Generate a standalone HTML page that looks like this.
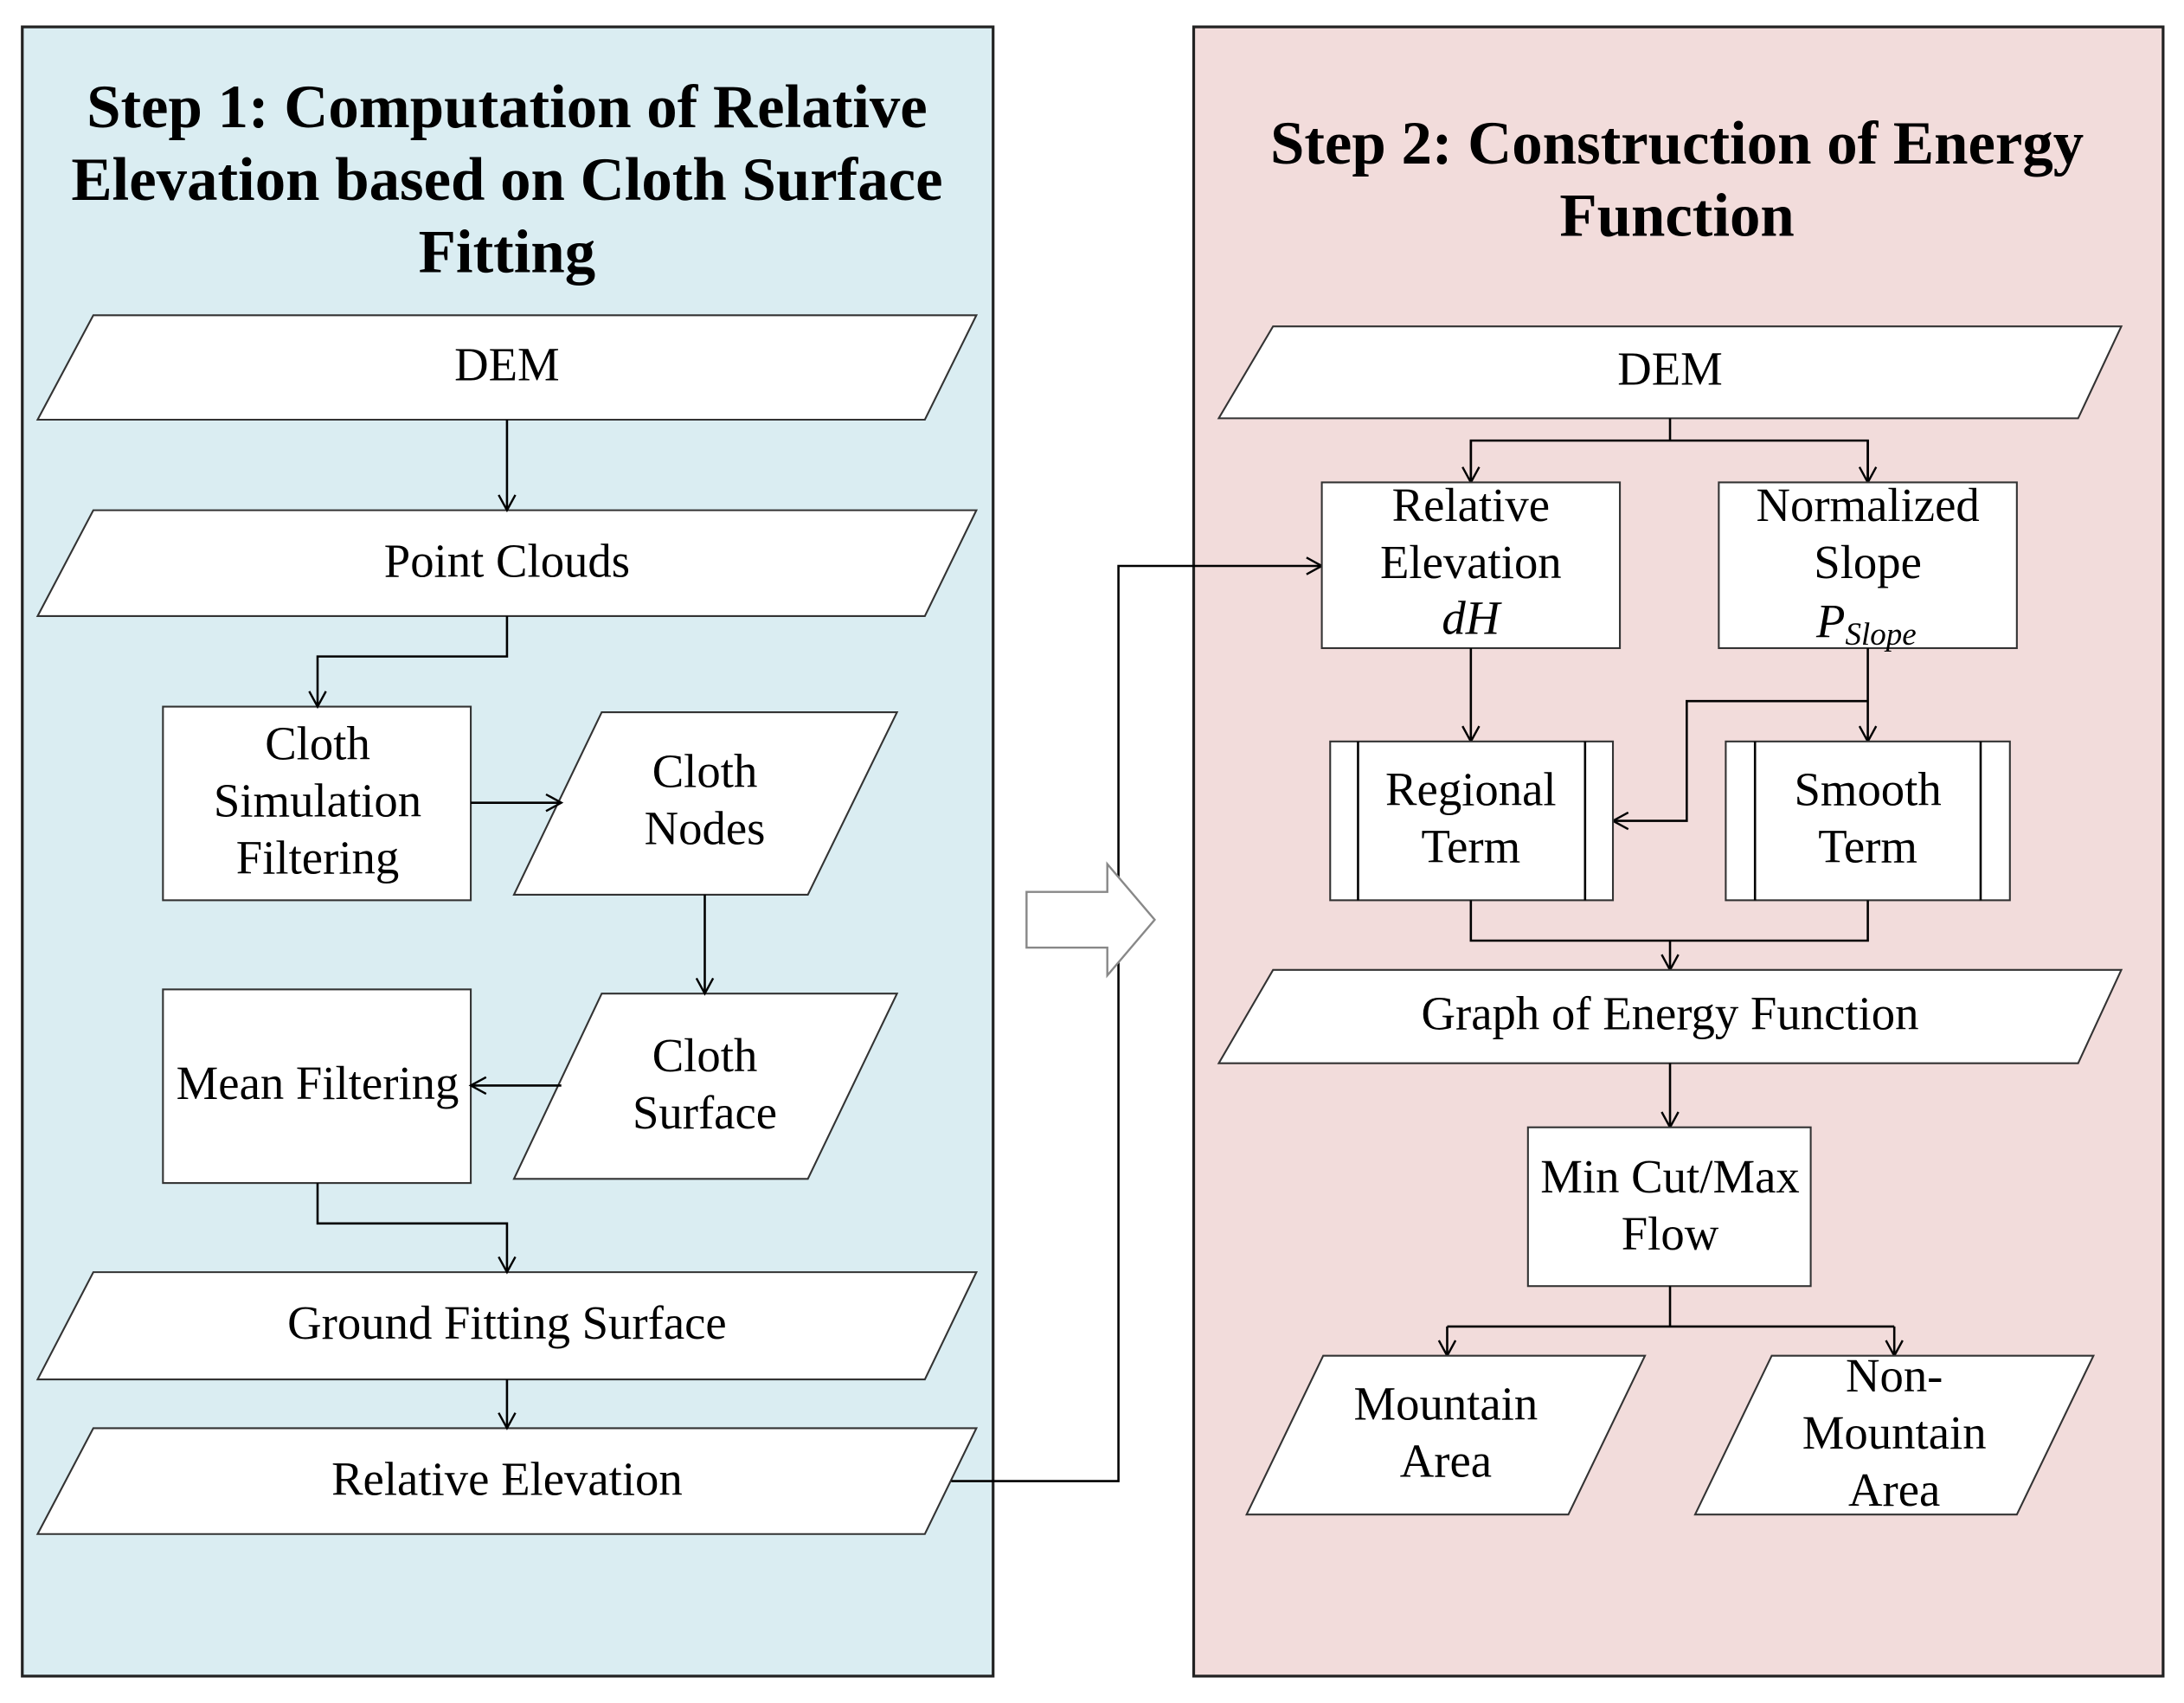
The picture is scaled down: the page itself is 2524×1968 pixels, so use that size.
<!DOCTYPE html>
<html><head><meta charset="utf-8"><style>
html,body{margin:0;padding:0;background:#fff;}
svg{display:block;}
text{font-family:"Liberation Serif",serif;fill:#000;}
.t{font-size:34px;text-anchor:middle;dominant-baseline:middle;}
.h{font-size:44px;font-weight:bold;text-anchor:middle;dominant-baseline:middle;}
.s{fill:#fff;stroke:#333;stroke-width:1.3;}
.l{fill:none;stroke:#000;stroke-width:1.6;}
</style></head><body>
<svg width="2524" height="1968" viewBox="0 0 1568 1222" xmlns="http://www.w3.org/2000/svg">
<defs><marker id="a" markerWidth="14" markerHeight="14" refX="12" refY="7" orient="auto" markerUnits="userSpaceOnUse"><path d="M1,1 L12,7 L1,13" fill="none" stroke="#000" stroke-width="1.5"/></marker></defs>
<rect x="16" y="19" width="697" height="1184" fill="#daedf2" stroke="#222" stroke-width="2"/>
<rect x="857" y="19" width="696" height="1184" fill="#f2dcdb" stroke="#222" stroke-width="2"/>
<text class="h" x="364" y="81">Step 1: Computation of Relative</text>
<text class="h" x="364" y="133">Elevation based on Cloth Surface</text>
<text class="h" x="364" y="185">Fitting</text>
<text class="h" x="1204" y="107">Step 2: Construction of Energy</text>
<text class="h" x="1204" y="159">Function</text>
<g transform="translate(0,2)">
<text class="t" x="364" y="263">DEM</text>
<text class="t" x="364" y="404">Point Clouds</text>
<text class="t" x="228" y="535">Cloth</text><text class="t" x="228" y="576">Simulation</text><text class="t" x="228" y="617">Filtering</text>
<text class="t" x="506" y="555">Cloth</text><text class="t" x="506" y="596">Nodes</text>
<text class="t" x="506" y="759">Cloth</text><text class="t" x="506" y="800">Surface</text>
<text class="t" x="228" y="779">Mean Filtering</text>
<text class="t" x="364" y="951">Ground Fitting Surface</text>
<text class="t" x="364" y="1063">Relative Elevation</text>
</g>

<!-- left -->
<polygon class="s" points="67,226 701,226 664,301 27,301"/>
<polygon class="s" points="67,366 701,366 664,442 27,442"/>
<rect class="s" x="117" y="507" width="221" height="139"/>
<polygon class="s" points="432,511 644,511 580,642 369,642"/>
<polygon class="s" points="432,713 644,713 580,846 369,846"/>
<rect class="s" x="117" y="710" width="221" height="139"/>
<polygon class="s" points="67,913 701,913 664,990 27,990"/>
<polygon class="s" points="67,1025 701,1025 664,1101 27,1101"/>
<g transform="translate(0,2)">
<text class="t" x="364" y="263">DEM</text>
<text class="t" x="364" y="404">Point Clouds</text>
<text class="t" x="228" y="535">Cloth</text><text class="t" x="228" y="576">Simulation</text><text class="t" x="228" y="617">Filtering</text>
<text class="t" x="506" y="555">Cloth</text><text class="t" x="506" y="596">Nodes</text>
<text class="t" x="506" y="759">Cloth</text><text class="t" x="506" y="800">Surface</text>
<text class="t" x="228" y="779">Mean Filtering</text>
<text class="t" x="364" y="951">Ground Fitting Surface</text>
<text class="t" x="364" y="1063">Relative Elevation</text>
</g>

<path class="l" d="M364,301 V366" marker-end="url(#a)"/>
<path class="l" d="M364,442 V471 H228 V507" marker-end="url(#a)"/>
<path class="l" d="M338,576 H403" marker-end="url(#a)"/>
<path class="l" d="M506,642 V713" marker-end="url(#a)"/>
<path class="l" d="M403,779 H338" marker-end="url(#a)"/>
<path class="l" d="M228,849 V878 H364 V913" marker-end="url(#a)"/>
<path class="l" d="M364,990 V1025" marker-end="url(#a)"/>
<path class="l" d="M683,1063 H803 V406 H949" marker-end="url(#a)"/>

<polygon points="737,640 795,640 795,620 829,660 795,700 795,680 737,680" fill="#fff" stroke="#888" stroke-width="1.5"/>

<!-- right -->
<polygon class="s" points="914,234 1523,234 1492,300 875,300"/>
<path class="l" d="M1199,300 V316 M1056,346 V316 H1341 V346"/>
<path class="l" d="M1056,316 V346" marker-end="url(#a)"/>
<path class="l" d="M1341,316 V346" marker-end="url(#a)"/>
<rect class="s" x="949" y="346" width="214" height="119"/>
<rect class="s" x="1234" y="346" width="214" height="119"/>
<path class="l" d="M1056,465 V532" marker-end="url(#a)"/>
<path class="l" d="M1341,465 V532" marker-end="url(#a)"/>
<path class="l" d="M1341,503 H1211 V589 H1158" marker-end="url(#a)"/>
<rect class="s" x="955" y="532" width="203" height="114"/><path class="l" d="M975,532 V646 M1138,532 V646" stroke-width="1"/>
<rect class="s" x="1239" y="532" width="204" height="114"/><path class="l" d="M1260,532 V646 M1422,532 V646" stroke-width="1"/>
<path class="l" d="M1056,646 V675 H1341 V646"/>
<path class="l" d="M1199,675 V696" marker-end="url(#a)"/>
<polygon class="s" points="914,696 1523,696 1492,763 875,763"/>
<path class="l" d="M1199,763 V809" marker-end="url(#a)"/>
<rect class="s" x="1097" y="809" width="203" height="114"/>
<path class="l" d="M1199,923 V952 H1360 M1199,952 H1039"/>
<path class="l" d="M1039,952 V973" marker-end="url(#a)"/>
<path class="l" d="M1360,952 V973" marker-end="url(#a)"/>
<polygon class="s" points="950,973 1181,973 1126,1087 895,1087"/>
<polygon class="s" points="1272,973 1503,973 1448,1087 1217,1087"/>
<g transform="translate(0,2)">
<text class="t" x="1199" y="266">DEM</text>
<text class="t" x="1056" y="364">Relative</text><text class="t" x="1056" y="405">Elevation</text><text class="t" x="1056" y="445" font-style="italic">dH</text>
<text class="t" x="1341" y="364">Normalized</text><text class="t" x="1341" y="405">Slope</text>
<text x="1304" y="447" style="font-size:34px;font-style:italic;dominant-baseline:middle">P<tspan font-size="23" dy="8">Slope</tspan></text>
<text class="t" x="1056" y="568">Regional</text><text class="t" x="1056" y="609">Term</text>
<text class="t" x="1341" y="568">Smooth</text><text class="t" x="1341" y="609">Term</text>
<text class="t" x="1199" y="729">Graph of Energy Function</text>
<text class="t" x="1199" y="846">Min Cut/Max</text><text class="t" x="1199" y="887">Flow</text>
<text class="t" x="1038" y="1009">Mountain</text><text class="t" x="1038" y="1050">Area</text>
<text class="t" x="1360" y="989">Non-</text><text class="t" x="1360" y="1030">Mountain</text><text class="t" x="1360" y="1071">Area</text>
</g>
</svg>
</body></html>
